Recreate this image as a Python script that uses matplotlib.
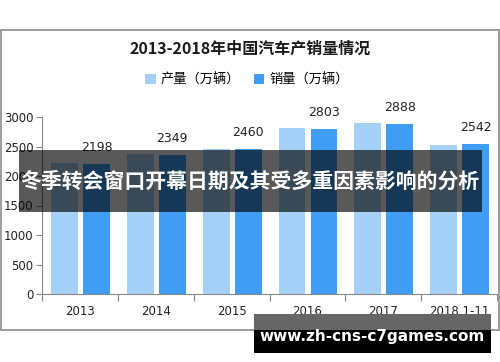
import matplotlib
matplotlib.use('Agg')
import matplotlib.pyplot as plt
from matplotlib.patches import Rectangle
import numpy as np

plt.rcParams['font.family'] = ['Noto Sans CJK SC', 'DejaVu Sans']

# Data
years = ['2013', '2014', '2015', '2016', '2017', '2018.1-11']
production = [2212, 2372, 2450, 2812, 2902, 2532]
sales = [2198, 2349, 2460, 2803, 2888, 2542]

W, H = 500, 362
fig = plt.figure(figsize=(W / 100, H / 100), dpi=100)


def px_box(x0, y0, x1, y1):
    # pixel box (top-left origin) -> figure fraction rect
    return x0 / W, 1 - y1 / H, (x1 - x0) / W, (y1 - y0) / H


# Outer frame of the chart
fx, fy, fw, fh = px_box(1, 29.5, 499, 329.5)
fig.add_artist(Rectangle((fx, fy), fw, fh, transform=fig.transFigure,
                         fill=False, edgecolor='#8c8c8c', linewidth=1.2))

ax = fig.add_axes(px_box(42, 117, 497, 294))

x = np.arange(len(years))
bar_w = 0.355
ax.bar(x - 0.5 + 9 / 75.7, production, width=bar_w, align='edge',
       color='#a5d1f8', label='产量（万辆）')
ax.bar(x - 0.5 + 41 / 75.7, sales, width=bar_w, align='edge',
       color='#3f9ef3', label='销量（万辆）')

for xi, v in zip(x, sales):
    ax.text(xi - 0.5 + 41 / 75.7 + bar_w / 2, v + 170, str(v),
            ha='center', va='bottom', fontsize=9, color='#222222',
            family='DejaVu Sans')

ax.set_xlim(-0.5, len(years) - 0.5)
ax.set_ylim(0, 3000)
ax.set_yticks([0, 500, 1000, 1500, 2000, 2500, 3000])
ax.set_xticks(np.arange(len(years) + 1) - 0.5)
ax.set_xticklabels([])
ax.set_xticks(x, minor=True)
ax.set_xticklabels(years, minor=True)
ax.tick_params(axis='x', which='minor', length=0, pad=8, labelsize=8.5,
               labelcolor='#222222')
ax.tick_params(axis='x', which='major', length=5, color='#888888')
ax.tick_params(axis='y', length=4, color='#888888', labelsize=8.5,
               labelcolor='#222222', pad=2)
for lbl in ax.get_xticklabels(minor=True) + ax.get_yticklabels():
    lbl.set_family('DejaVu Sans')
for s in ['top', 'right']:
    ax.spines[s].set_visible(False)
for s in ['left', 'bottom']:
    ax.spines[s].set_color('#888888')

fig.text(250 / W, 1 - 49 / H, '2013-2018年中国汽车产销量情况',
         ha='center', va='center', fontsize=11.5, fontweight='bold',
         color='#1a1a1a')
fig.legend(loc='center', bbox_to_anchor=(247 / W, 1 - 80 / H), ncol=2,
           frameon=False, fontsize=9.5, handlelength=0.8, handleheight=0.8,
           handletextpad=0.4, columnspacing=1.0)

# Overlay banner
bx, by, bw, bh = px_box(19, 150, 482, 212)
fig.add_artist(Rectangle((bx, by), bw, bh, transform=fig.transFigure,
                         facecolor='black', alpha=0.65, edgecolor='none'))
fig.text(250 / W, 1 - 181 / H, '冬季转会窗口开幕日期及其受多重因素影响的分析',
         ha='center', va='center', fontsize=15, fontweight='bold',
         color='white')

# Bottom URL box
gx, gy, gw, gh = px_box(254, 314, 491, 330)
fig.add_artist(Rectangle((gx, gy), gw, gh, transform=fig.transFigure,
                         facecolor='#666666', edgecolor='none'))
kx, ky, kw, kh = px_box(254, 330, 491, 353)
fig.add_artist(Rectangle((kx, ky), kw, kh, transform=fig.transFigure,
                         facecolor='black', edgecolor='none'))
fig.text(372 / W, 1 - 337 / H, 'www.zh-cns-c7games.com',
         ha='center', va='center', fontsize=11, fontweight='bold',
         color='white', family='DejaVu Sans')

fig.savefig('out.png', dpi=100)
